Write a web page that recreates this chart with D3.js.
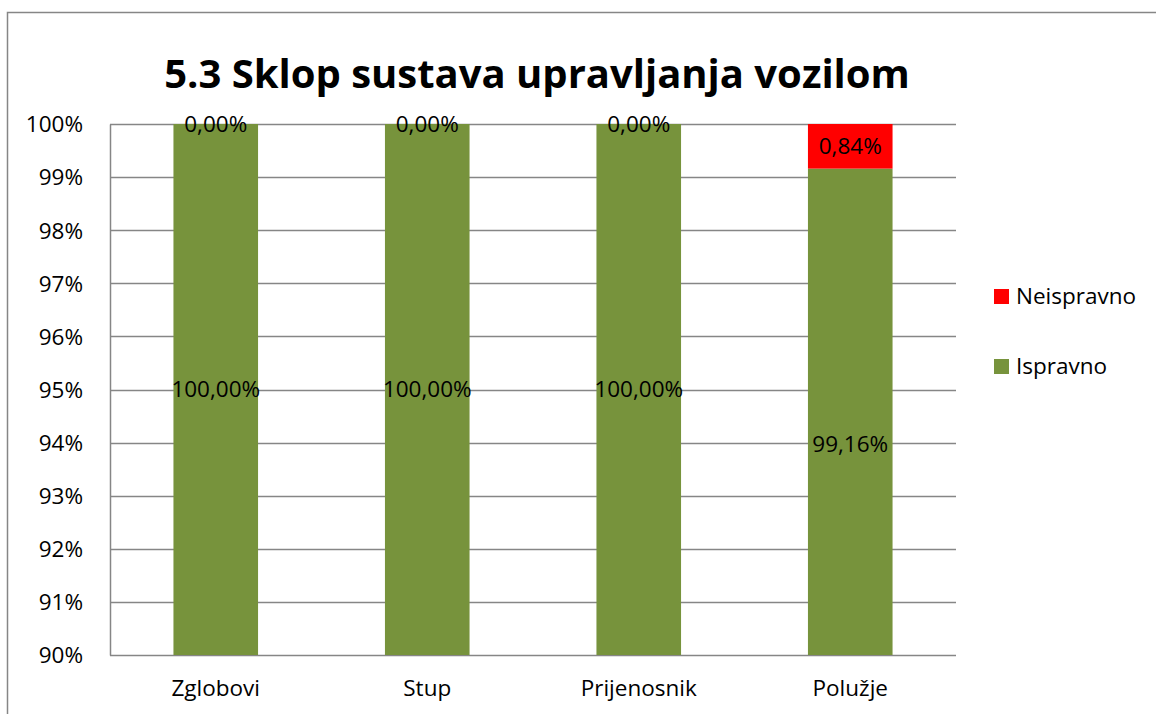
<!DOCTYPE html>
<html>
<head>
<meta charset="utf-8">
<script src="https://cdn.jsdelivr.net/npm/d3@7"></script>
<style>
  body { margin: 0; background: #fff; }
  text { font-family: "Open Sans", sans-serif; fill: #000; }
</style>
</head>
<body>
<svg id="chart" width="1156" height="714"></svg>
<script>
// data
const categories = ["Zglobovi", "Stup", "Prijenosnik", "Polužje"];
const ispravno = [100.00, 100.00, 100.00, 99.16];
const neispravno = [0.00, 0.00, 0.00, 0.84];
const yTicks = [90, 91, 92, 93, 94, 95, 96, 97, 98, 99, 100];
const seriesNames = ["Neispravno", "Ispravno"];
const seriesColors = { "Ispravno": "#77933C", "Neispravno": "#FF0000" };
const title = "5.3 Sklop sustava upravljanja vozilom";

const fmt = v => v.toFixed(2).replace(".", ",") + "%";
const fs = "22.5px";

const svg = d3.select("#chart");
const margin = { top: 124, left: 110, right: 200, bottom: 59 };
const width = 1156 - margin.left - margin.right;   // 846
const height = 714 - margin.top - margin.bottom;   // 531

// outer chart border (right/bottom run off the picture)
svg.append("rect")
  .attr("x", 7.5).attr("y", 12.5)
  .attr("width", 1160).attr("height", 720)
  .attr("fill", "none").attr("stroke", "#868686").attr("stroke-width", 1.5);

svg.append("text")
  .attr("x", 537).attr("y", 88)
  .attr("text-anchor", "middle")
  .style("font-size", "40px").style("font-weight", "bold")
  .text(title);

const g = svg.append("g").attr("transform", `translate(${margin.left},${margin.top})`);

const x = d3.scaleBand().domain(categories).range([0, width]).paddingInner(0.6).paddingOuter(0.3);
const y = d3.scaleLinear().domain([90, 100]).range([height, 0]);

// gridlines
g.append("g")
  .selectAll("line")
  .data(yTicks)
  .join("line")
  .attr("x1", 0).attr("x2", width)
  .attr("y1", d => Math.round(y(d)) + 0.5).attr("y2", d => Math.round(y(d)) + 0.5)
  .attr("stroke", "#868686").attr("stroke-width", 1.5);

// y axis
const yAxis = g.append("g")
  .call(d3.axisLeft(y).tickValues(yTicks).tickSize(0).tickPadding(27).tickFormat(d => d + "%"));
yAxis.select(".domain").attr("stroke", "#868686").attr("stroke-width", 1.5);
yAxis.selectAll(".tick text").style("font-size", fs).attr("dy", "0.35em");

// x axis labels
const xAxis = g.append("g")
  .attr("transform", `translate(0,${height})`)
  .call(d3.axisBottom(x).tickSize(0).tickPadding(25));
xAxis.select(".domain").remove();
xAxis.selectAll(".tick text").style("font-size", fs);

// stacked rows, clipped to the visible axis range
const rows = categories.map((c, i) => ({ cat: c, Ispravno: ispravno[i], Neispravno: neispravno[i] }));
const stack = d3.stack().keys(["Ispravno", "Neispravno"])(rows);

g.append("clipPath").attr("id", "plotclip")
  .append("rect").attr("width", width).attr("height", height);

const plot = g.append("g").attr("clip-path", "url(#plotclip)");
stack.forEach(s => {
  plot.append("g")
    .attr("fill", seriesColors[s.key])
    .selectAll("rect")
    .data(s)
    .join("rect")
    .attr("x", d => x(d.data.cat))
    .attr("width", x.bandwidth())
    .attr("y", d => y(Math.min(d[1], 100)))
    .attr("height", d => Math.max(0, y(Math.max(d[0], 90)) - y(Math.min(d[1], 100))));
});

// data labels, centred on the visible part of each segment
const labels = g.append("g");
stack.forEach(s => {
  labels.selectAll(null)
    .data(s)
    .join("text")
    .attr("x", d => x(d.data.cat) + x.bandwidth() / 2)
    .attr("y", d => {
      const lo = Math.max(d[0], 90), hi = Math.min(d[1], 100);
      let mid = (lo + hi) / 2;
      if (s.key === "Ispravno" && d[1] < 100) mid = (d[1] + 90) / 2 - 0.6;
      return y(mid);
    })
    .attr("dy", "0.35em")
    .attr("text-anchor", "middle")
    .style("font-size", fs)
    .text(d => fmt(d.data[s.key]));
});

// legend
const legend = svg.append("g").attr("transform", "translate(994,289)");
seriesNames.forEach((name, i) => {
  const row = legend.append("g").attr("transform", `translate(0,${i * 70})`);
  row.append("rect").attr("width", 15).attr("height", 15).attr("fill", seriesColors[name]);
  row.append("text").attr("x", 22).attr("y", 7.5).attr("dy", "0.35em")
    .style("font-size", fs).text(name);
});
</script>
</body>
</html>
